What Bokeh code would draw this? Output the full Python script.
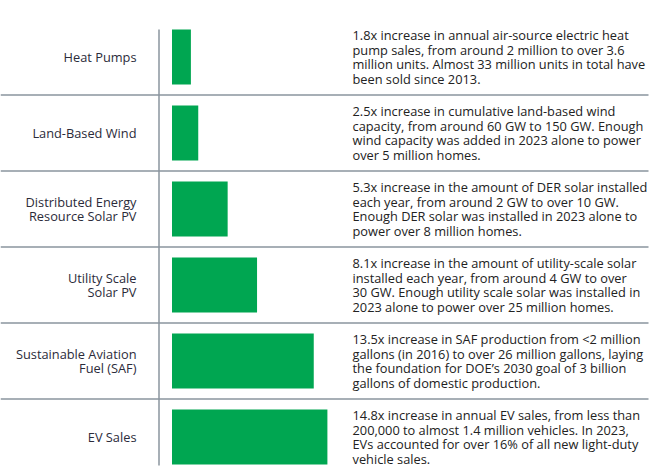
from bokeh.plotting import figure
from bokeh.models import Range1d
from bokeh.core.properties import value
from bokeh.embed import file_html
from bokeh.resources import INLINE

categories = [
    "Heat Pumps",
    "Land-Based Wind",
    "Distributed Energy\nResource Solar PV",
    "Utility Scale\nSolar PV",
    "Sustainable Aviation\nFuel (SAF)",
    "EV Sales",
]
multipliers = [1.8, 2.5, 5.3, 8.1, 13.5, 14.8]
descriptions = [
    "1.8x increase in annual air-source electric heat\npump sales, from around 2 million to over 3.6\nmillion units. Almost 33 million units in total have\nbeen sold since 2013.",
    "2.5x increase in cumulative land-based wind\ncapacity, from around 60 GW to 150 GW. Enough\nwind capacity was added in 2023 alone to power\nover 5 million homes.",
    "5.3x increase in the amount of DER solar installed\neach year, from around 2 GW to over 10 GW.\nEnough DER solar was installed in 2023 alone to\npower over 8 million homes.",
    "8.1x increase in the amount of utility-scale solar\ninstalled each year, from around 4 GW to over\n30 GW. Enough utility scale solar was installed in\n2023 alone to power over 25 million homes.",
    "13.5x increase in SAF production from <2 million\ngallons (in 2016) to over 26 million gallons, laying\nthe foundation for DOE\u2019s 2030 goal of 3 billion\ngallons of domestic production.",
    "14.8x increase in annual EV sales, from less than\n200,000 to almost 1.4 million vehicles. In 2023,\nEVs accounted for over 16% of all new light-duty\nvehicle sales.",
]

rows = list(range(len(categories)))

W, H = 664, 469
PX = 10.5          # pixels per multiplier unit
X0 = 171.5         # pixel of zero
ROW = 76.0
Y0 = 56.5          # pixel of first row center

x_start = -X0 / PX
x_end = (W - X0) / PX
y_top = -Y0 / ROW
y_bot = (H - Y0) / ROW

p = figure(width=W, height=H, output_backend="svg", toolbar_location=None,
           x_range=Range1d(x_start, x_end), y_range=Range1d(y_bot, y_top),
           min_border=0)
p.axis.visible = False
p.grid.visible = False
p.outline_line_color = None
p.background_fill_color = "white"

line_color = "#8a949e"
sep_y = [r + 0.5 for r in rows[:-1]]
line_right = (648 - X0) / PX
p.segment(x0=[x_start] * len(sep_y), x1=[line_right] * len(sep_y), y0=sep_y, y1=sep_y,
          line_color=line_color, line_width=1.5)
vx = (158.5 - X0) / PX
p.segment(x0=[vx], x1=[vx], y0=[(29 - Y0) / ROW], y1=[(465 - Y0) / ROW],
          line_color=line_color, line_width=1.5)

p.hbar(y=rows, left=0, right=multipliers, height=55 / ROW, fill_color="#00A651", line_color=None)

label_x = (136 - X0) / PX
p.text(x=[label_x] * len(rows), y=rows, text=categories, text_align="right",
       text_baseline="middle", text_font=value("Open Sans"), text_font_size="12.8px",
       text_color="#2b2b3a", text_line_height=0.8)

desc_x = (352 - X0) / PX
p.text(x=[desc_x] * len(rows), y=rows, text=descriptions, text_align="left",
       text_baseline="middle", text_font=value("Open Sans"), text_font_size="12.8px",
       text_color="#222222", text_line_height=0.8)

open("out.html", "w").write(file_html(p, INLINE))
